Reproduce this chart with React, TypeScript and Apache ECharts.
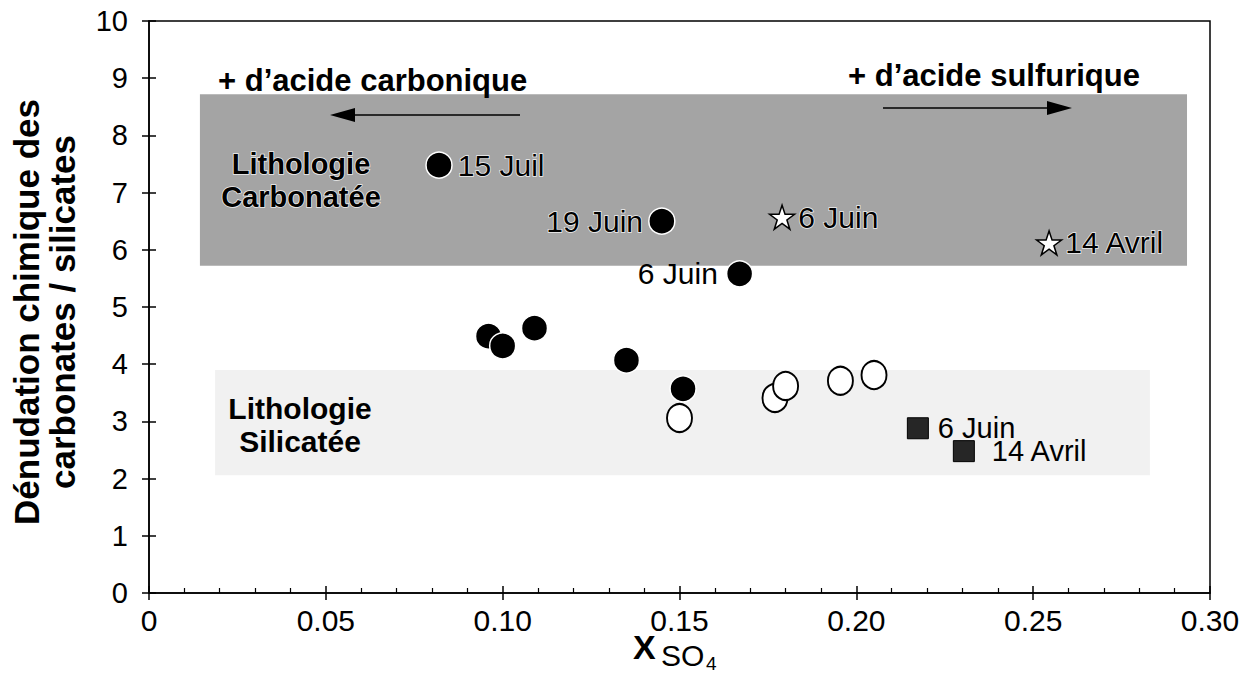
import React, { useEffect, useRef } from "react";
import * as echarts from "echarts";

// ---- data ----
const xTickLabels = ["0", "0.05", "0.10", "0.15", "0.20", "0.25", "0.30"];
const yTickLabels = ["0", "1", "2", "3", "4", "5", "6", "7", "8", "9", "10"];

const filledX = [0.082, 0.145, 0.167, 0.096, 0.1, 0.109, 0.135, 0.151];
const filledY = [7.48, 6.5, 5.58, 4.49, 4.32, 4.63, 4.07, 3.57];
const filledLabels = ["15 Juil", "19 Juin", "6 Juin", "", "", "", "", ""];
const filledLabelPos = ["right", "left", "left", "", "", "", "", ""];

const openX = [0.15, 0.177, 0.18, 0.1955, 0.205];
const openY = [3.06, 3.41, 3.62, 3.71, 3.81];

const starX = [0.179, 0.2545];
const starY = [6.57, 6.12];
const starLabels = ["6 Juin", "14 Avril"];

const squareX = [0.2174, 0.2304];
const squareY = [2.88, 2.48];
const squareLabels = ["6 Juin", "14 Avril"];

// shaded lithology zones [x1, y1, x2, y2]
const carbonateZone = [0.0144, 5.72, 0.2935, 8.72];
const silicateZone = [0.0187, 2.06, 0.283, 3.9];

const FONT = "'Liberation Sans', Arial, Helvetica, sans-serif";
const STAR =
  "path://M50,2 L61.8,37.5 L99,37.5 L69,59.5 L80.5,95 L50,73 L19.5,95 L31,59.5 L1,37.5 L38.2,37.5 Z";

export default function App() {
  const ref = useRef<HTMLDivElement>(null);

  useEffect(() => {
    if (!ref.current) return;
    const chart = echarts.init(ref.current, undefined, { renderer: "svg" });

    const labelBase = {
      fontFamily: FONT,
      fontSize: 30,
      color: "#000",
    };
    const halo = { textBorderColor: "rgba(255,255,255,0.85)", textBorderWidth: 1.5 };

    const filledData = filledX.map((x, i) => ({
      value: [x, filledY[i]],
      label: filledLabels[i]
        ? {
            show: true,
            formatter: filledLabels[i],
            position: filledLabelPos[i],
            distance: i === 2 ? 8 : 5,
            ...labelBase,
            ...(i < 2 ? halo : {}),
          }
        : { show: false },
    }));

    const starData = starX.map((x, i) => ({
      value: [x, starY[i]],
      label: {
        show: true,
        formatter: starLabels[i],
        position: "right",
        distance: 3,
        ...labelBase,
        ...halo,
      },
    }));

    const squareData = squareX.map((x, i) => ({
      value: [x, squareY[i]],
      label: {
        show: true,
        formatter: squareLabels[i],
        position: "right",
        distance: i === 0 ? 9 : 17,
        ...labelBase,
        fontSize: 29,
        lineHeight: 22,
      },
    }));

    const xAxisCommon = {
      type: "value",
      min: 0,
      max: 0.3,
      interval: 0.05,
      splitLine: { show: false },
    };
    const yAxisCommon = {
      type: "value",
      min: 0,
      max: 10,
      interval: 1,
      splitLine: { show: false },
    };

    const option: any = {
      animation: false,
      backgroundColor: "#fff",
      grid: {
        left: 149,
        right: 33,
        top: 21,
        bottom: 83,
        show: true,
        borderColor: "#000",
        borderWidth: 1.5,
        backgroundColor: "transparent",
      },
      xAxis: [
        {
          ...xAxisCommon,
          axisLine: { show: true, lineStyle: { color: "#000", width: 1.5 } },
          axisTick: { show: true, inside: false, length: 7, lineStyle: { color: "#000", width: 1.5 } },
          axisLabel: {
            show: true,
            margin: 12,
            fontFamily: FONT,
            fontSize: 30,
            color: "#000",
            formatter: (v: number) => xTickLabels[Math.round(v / 0.05)] ?? "",
          },
        },
        {
          ...xAxisCommon,
          position: "bottom",
          axisLine: { show: false },
          axisLabel: { show: false },
          axisTick: { show: true, inside: true, length: 7, lineStyle: { color: "#000", width: 1.5 } },
          minorTick: { show: true, splitNumber: 5, length: 5, lineStyle: { color: "#000", width: 1.2 } },
        },
      ],
      yAxis: [
        {
          ...yAxisCommon,
          axisLine: { show: true, lineStyle: { color: "#000", width: 1.5 } },
          axisTick: { show: true, inside: false, length: 7, lineStyle: { color: "#000", width: 1.5 } },
          axisLabel: {
            show: true,
            margin: 21,
            fontFamily: FONT,
            fontSize: 29,
            color: "#000",
            formatter: (v: number) => yTickLabels[Math.round(v)] ?? "",
          },
        },
        {
          ...yAxisCommon,
          position: "left",
          axisLine: { show: false },
          axisLabel: { show: false },
          axisTick: { show: true, inside: true, length: 7, lineStyle: { color: "#000", width: 1.5 } },
        },
      ],
      series: [
        {
          type: "scatter",
          name: "zones",
          xAxisIndex: 0,
          yAxisIndex: 0,
          data: [],
          z: 0,
          silent: true,
          markArea: {
            silent: true,
            data: [
              [
                { coord: [carbonateZone[0], carbonateZone[3]], itemStyle: { color: "#a4a4a4", opacity: 1 } },
                { coord: [carbonateZone[2], carbonateZone[1]] },
              ],
              [
                { coord: [silicateZone[0], silicateZone[3]], itemStyle: { color: "#f1f1f1", opacity: 1 } },
                { coord: [silicateZone[2], silicateZone[1]] },
              ],
            ],
          },
        },
        {
          type: "scatter",
          name: "filled",
          xAxisIndex: 0,
          yAxisIndex: 0,
          symbol: "circle",
          symbolSize: 26,
          itemStyle: { color: "#000", borderColor: "#fff", borderWidth: 1.5, opacity: 1 },
          data: filledData,
          z: 5,
        },
        {
          type: "scatter",
          name: "open",
          xAxisIndex: 0,
          yAxisIndex: 0,
          symbol: "circle",
          symbolSize: [25, 28],
          itemStyle: { color: "#fff", borderColor: "#000", borderWidth: 2, opacity: 1 },
          data: openX.map((x, i) => [x, openY[i]]),
          z: 5,
        },
        {
          type: "scatter",
          name: "stars",
          xAxisIndex: 0,
          yAxisIndex: 0,
          symbol: STAR,
          symbolSize: [25, 24],
          itemStyle: { color: "#fff", borderColor: "#000", borderWidth: 1.5, opacity: 1 },
          data: starData,
          z: 5,
        },
        {
          type: "scatter",
          name: "squares",
          xAxisIndex: 0,
          yAxisIndex: 0,
          symbol: "rect",
          symbolSize: 21,
          itemStyle: { color: "#262626", borderColor: "#000", borderWidth: 1, opacity: 1 },
          data: squareData,
          z: 5,
        },
      ],
      graphic: [
        {
          type: "text",
          x: 218,
          y: 80,
          z: 10,
          style: {
            text: "+ d\u2019acide carbonique",
            fontFamily: FONT,
            fontWeight: "bold",
            fontSize: 31,
            fill: "#000",
            verticalAlign: "middle",
          },
        },
        {
          type: "text",
          x: 848,
          y: 75,
          z: 10,
          style: {
            text: "+ d\u2019acide sulfurique",
            fontFamily: FONT,
            fontWeight: "bold",
            fontSize: 31,
            fill: "#000",
            verticalAlign: "middle",
          },
        },
        {
          type: "line",
          z: 10,
          shape: { x1: 350, y1: 115, x2: 520, y2: 115 },
          style: { stroke: "#000", lineWidth: 1.5 },
        },
        {
          type: "polygon",
          z: 10,
          shape: { points: [[330, 115], [355, 108], [355, 122]] },
          style: { fill: "#000" },
        },
        {
          type: "line",
          z: 10,
          shape: { x1: 883, y1: 108, x2: 1052, y2: 108 },
          style: { stroke: "#000", lineWidth: 1.5 },
        },
        {
          type: "polygon",
          z: 10,
          shape: { points: [[1072, 108], [1047, 101], [1047, 115]] },
          style: { fill: "#000" },
        },
        {
          type: "text",
          x: 301,
          y: 180,
          z: 10,
          style: {
            text: "Lithologie\nCarbonatée",
            fontFamily: FONT,
            fontWeight: "bold",
            fontSize: 29,
            lineHeight: 33,
            fill: "#000",
            align: "center",
            verticalAlign: "middle",
            stroke: "rgba(255,255,255,0.85)",
            lineWidth: 1.5,
          },
        },
        {
          type: "text",
          x: 300,
          y: 425,
          z: 10,
          style: {
            text: "Lithologie\nSilicatée",
            fontFamily: FONT,
            fontWeight: "bold",
            fontSize: 30,
            lineHeight: 33,
            fill: "#000",
            align: "center",
            verticalAlign: "middle",
          },
        },
        {
          type: "text",
          x: 44,
          y: 312,
          rotation: Math.PI / 2,
          z: 10,
          style: {
            text: "Dénudation chimique des\ncarbonates / silicates",
            fontFamily: FONT,
            fontWeight: "bold",
            fontSize: 35,
            lineHeight: 36,
            fill: "#000",
            align: "center",
            verticalAlign: "middle",
          },
        },
        {
          type: "text",
          x: 633,
          y: 647,
          z: 10,
          style: {
            text: "X",
            fontFamily: FONT,
            fontWeight: "bold",
            fontSize: 34,
            fill: "#000",
            verticalAlign: "middle",
          },
        },
        {
          type: "text",
          x: 661,
          y: 655,
          z: 10,
          style: {
            text: "SO",
            fontFamily: FONT,
            fontSize: 30,
            fill: "#000",
            verticalAlign: "middle",
          },
        },
        {
          type: "text",
          x: 706,
          y: 663,
          z: 10,
          style: {
            text: "4",
            fontFamily: FONT,
            fontSize: 19,
            fill: "#000",
            verticalAlign: "middle",
          },
        },
      ],
    };

    chart.setOption(option);
    return () => chart.dispose();
  }, []);

  return (
    <div
      ref={ref}
      style={{ position: "absolute", left: 0, top: 0, width: 1243, height: 676, background: "#fff" }}
    />
  );
}
